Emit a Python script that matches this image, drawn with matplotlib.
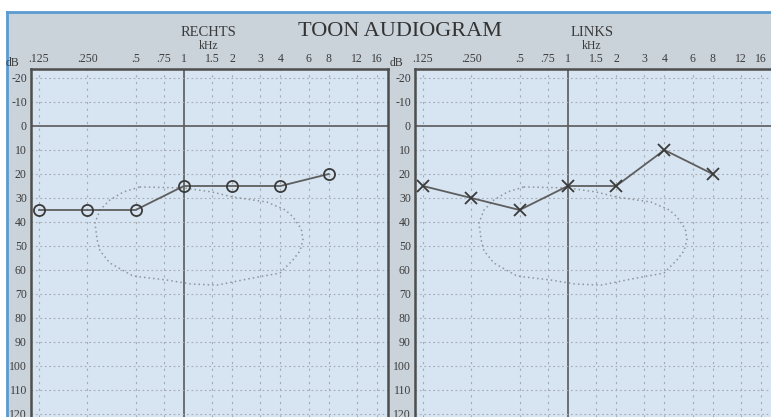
"""
Toon audiogram
--------------
Rebuild of a scanned audiogram sheet (right and left ear).
"""

import matplotlib
matplotlib.use("Agg")
import matplotlib.pyplot as plt

# frequency grid (Hz) and the labels printed on top of the sheet
freqs = [125, 250, 500, 750, 1000, 1500, 2000, 3000, 4000, 6000, 8000, 12000, 16000]
freq_labels = [".125", ".250", ".5", ".75", "1", "1.5", "2", "3", "4", "6", "8", "12", "16"]
db_ticks = [-20, -10, 0, 10, 20, 30, 40, 50, 60, 70, 80, 90, 100, 110, 120]

# measured thresholds (dB HL)
test_freqs = [125, 250, 500, 1000, 2000, 4000, 8000]
rechts_db = [35, 35, 35, 25, 25, 25, 20]
links_db = [25, 30, 35, 25, 25, 10, 20]

# dotted speech area outline printed on the sheet
area_freqs = [530, 1000, 1500, 2020, 3300, 4300, 4790, 5400, 5530, 5300, 4790,
              3970, 2700, 1610, 1100, 785, 481, 346, 300, 288, 279, 300, 346, 420, 530]
area_db = [25.4, 25.8, 27.5, 29.6, 31.7, 35.0, 37.9, 43.0, 47.5, 52.0, 55.8,
           61.3, 63.3, 66.3, 65.8, 64.2, 62.5, 57.1, 52.0, 47.5, 40.4, 35.0, 30.8, 27.5, 25.4]

W, H = 771, 417
PAPER = "#cad2da"
PLOT_BG = "#d7e4f1"
INK = "#3c3c3c"
GRID = "#a3abb3"
SERIF = ["Liberation Serif", "DejaVu Serif"]

plt.rcParams["font.family"] = SERIF

fig = plt.figure(figsize=(W / 100, H / 100), dpi=100)
fig.patch.set_facecolor("white")

# scanned paper background with the blue edge
paper = fig.add_axes([7 / W, 0, 1 - 7 / W, (H - 12) / H])
paper.set_facecolor(PAPER)
paper.set_xticks([])
paper.set_yticks([])
for side in ["right", "bottom"]:
    paper.spines[side].set_visible(False)
for side in ["left", "top"]:
    paper.spines[side].set_color("#5b9bd0")
    paper.spines[side].set_linewidth(2)


def draw_panel(x0, values, marker, title, title_x):
    ax = fig.add_axes([x0 / W, 0, 357 / W, 348 / H])
    ax.set_facecolor(PLOT_BG)
    ax.set_xscale("log", base=2)
    ax.set_xlim(111.4, 18740)
    ax.set_ylim(121.25, -23.75)

    for f in freqs:
        if f == 1000:
            ax.axvline(f, color="#5a5a5a", lw=1.2, zorder=1)
        else:
            ax.axvline(f, color=GRID, lw=0.8, ls=(0, (2, 4)), zorder=1)
    for d in db_ticks:
        if d == 0:
            ax.axhline(d, color="#5a5a5a", lw=1.2, zorder=1)
        else:
            ax.axhline(d, color=GRID, lw=0.8, ls=(0, (1.5, 2.5)), zorder=1)

    ax.plot(area_freqs, area_db, color="#8e969d", lw=1.1, ls=(0, (1, 2)), zorder=2)

    if marker == "o":
        ax.plot(test_freqs, values, color="#5e5e5e", lw=1.3, marker="o", ms=8,
                mfc="none", mec="#3a3a3a", mew=1.3, zorder=3)
    else:
        ax.plot(test_freqs, values, color="#5e5e5e", lw=1.3, marker="x", ms=8,
                mec="#3a3a3a", mew=1.3, zorder=3)

    ax.xaxis.tick_top()
    ax.set_xticks(freqs)
    ax.set_xticklabels(freq_labels, fontsize=8.5, color=INK)
    ax.xaxis.set_minor_locator(matplotlib.ticker.NullLocator())
    ax.tick_params(axis="x", length=0, pad=3)
    ax.set_yticks(db_ticks)
    ax.set_yticklabels([str(d) for d in db_ticks], fontsize=8.5, color=INK)
    ax.tick_params(axis="y", length=0, pad=3)

    for side in ["left", "top", "right"]:
        ax.spines[side].set_color("#4e4e4e")
        ax.spines[side].set_linewidth(1.8)
    ax.spines["bottom"].set_visible(False)

    fig.text((x0 - 18) / W, 1 - 63 / H, "dB", fontsize=8.5, color=INK,
             ha="center", va="center")
    fig.text(title_x / W, 1 - 33 / H, title, fontsize=10.5, color=INK,
             ha="center", va="center")
    fig.text(title_x / W, 1 - 46 / H, "kHz", fontsize=8.5, color=INK,
             ha="center", va="center")
    return ax


draw_panel(31, rechts_db, "o", "RECHTS", 209)
draw_panel(415, links_db, "x", "LINKS", 592)

fig.text(400 / W, 1 - 31 / H, "TOON AUDIOGRAM", fontsize=16, color="#333333",
         ha="center", va="center")

fig.savefig("out.png", dpi=100)
